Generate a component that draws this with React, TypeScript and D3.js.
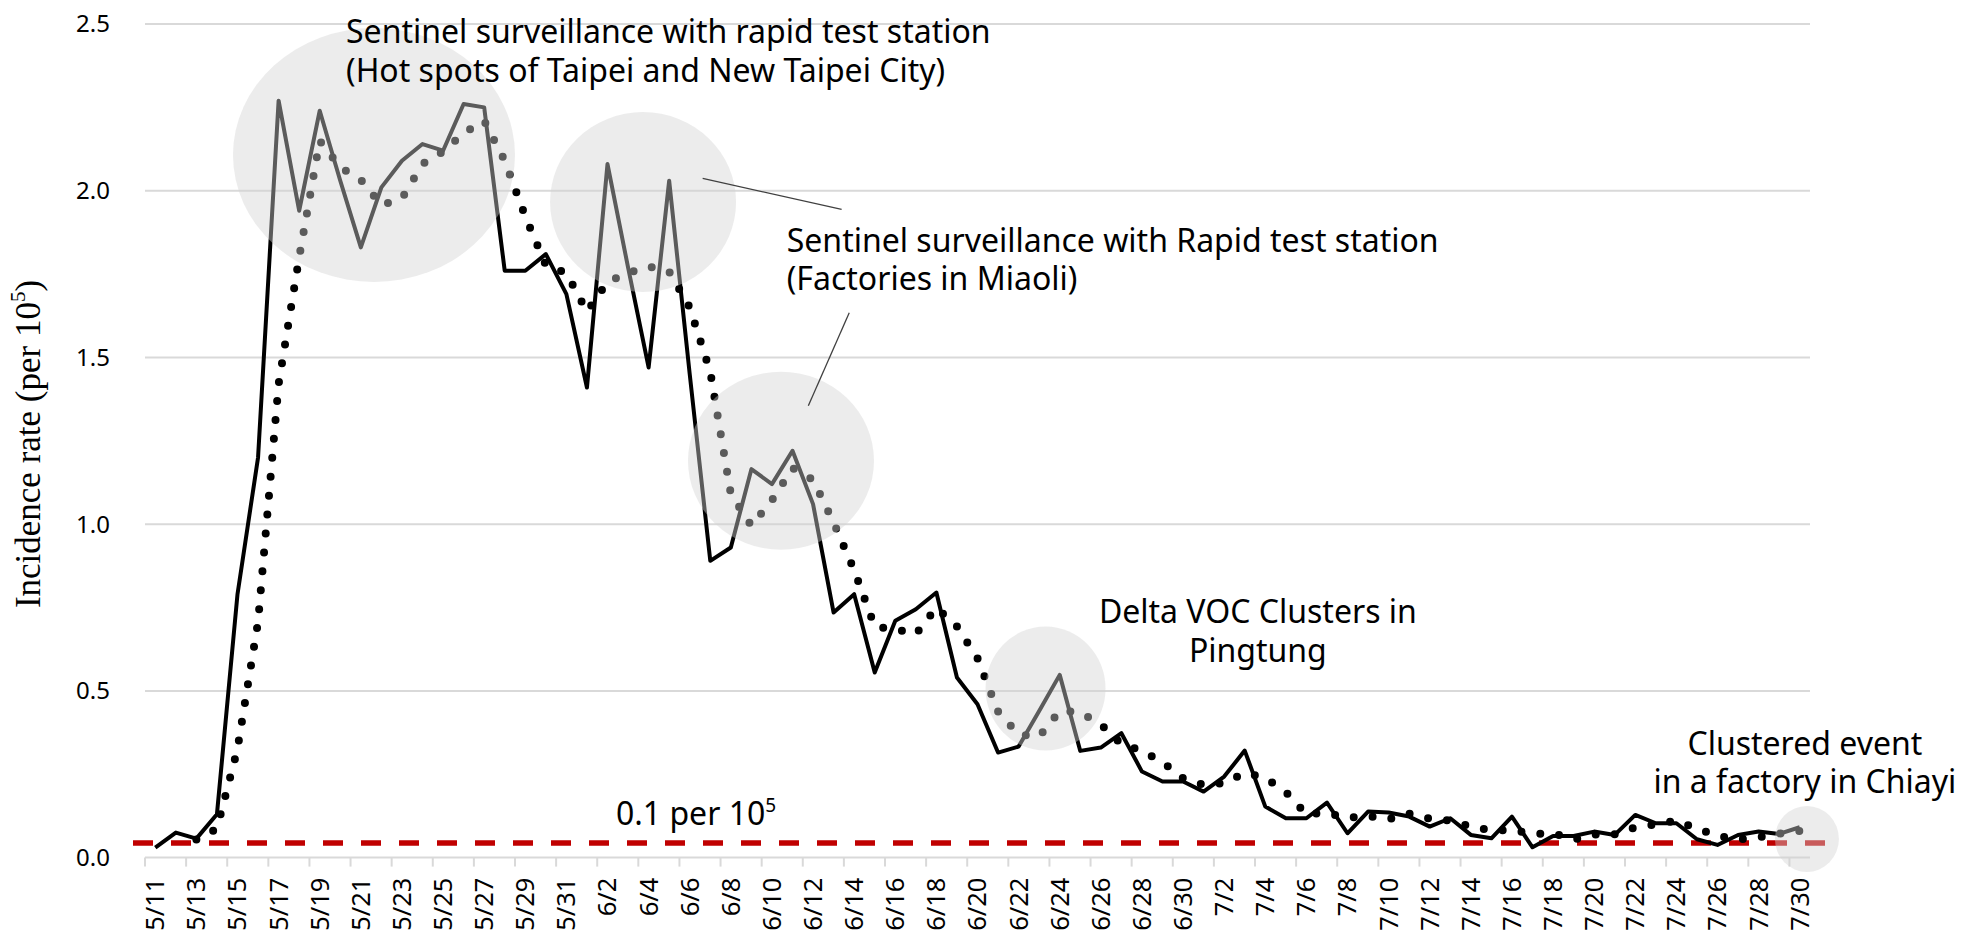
import React, { useEffect, useRef } from "react";
import * as d3 from "d3";

// daily categories 5/11 .. 7/30
const dates = [
  "5/11", "5/12", "5/13", "5/14", "5/15", "5/16", "5/17", "5/18", "5/19", "5/20",
  "5/21", "5/22", "5/23", "5/24", "5/25", "5/26", "5/27", "5/28", "5/29", "5/30", "5/31",
  "6/1", "6/2", "6/3", "6/4", "6/5", "6/6", "6/7", "6/8", "6/9", "6/10",
  "6/11", "6/12", "6/13", "6/14", "6/15", "6/16", "6/17", "6/18", "6/19", "6/20",
  "6/21", "6/22", "6/23", "6/24", "6/25", "6/26", "6/27", "6/28", "6/29", "6/30",
  "7/1", "7/2", "7/3", "7/4", "7/5", "7/6", "7/7", "7/8", "7/9", "7/10",
  "7/11", "7/12", "7/13", "7/14", "7/15", "7/16", "7/17", "7/18", "7/19", "7/20",
  "7/21", "7/22", "7/23", "7/24", "7/25", "7/26", "7/27", "7/28", "7/29", "7/30",
];

// daily incidence rate (per 10^5)
const incidence = [
  0.03, 0.075, 0.057, 0.13, 0.79, 1.2, 2.27, 1.94, 2.24, 2.03,
  1.83, 2.01, 2.09, 2.14, 2.12, 2.26, 2.25, 1.76, 1.76, 1.81, 1.69,
  1.41, 2.08, 1.77, 1.47, 2.03, 1.45, 0.89, 0.93, 1.165, 1.12,
  1.22, 1.06, 0.735, 0.79, 0.555, 0.71, 0.745, 0.795, 0.54, 0.46,
  0.315, 0.333, 0.44, 0.548, 0.32, 0.33, 0.373, 0.258, 0.228, 0.228,
  0.198, 0.243, 0.321, 0.153, 0.118, 0.118, 0.165, 0.073, 0.138, 0.135,
  0.123, 0.093, 0.118, 0.068, 0.058, 0.123, 0.031, 0.065, 0.065, 0.078,
  0.068, 0.128, 0.103, 0.103, 0.055, 0.038, 0.068, 0.078, 0.071, 0.091,
];

// dotted trend (moving average)
const trend = [
  null, null, 0.054, 0.087, 0.326, 0.707, 1.42, 1.8, 2.15, 2.07,
  2.033, 1.957, 1.977, 2.08, 2.117, 2.173, 2.21, 2.09, 1.923, 1.777, 1.753,
  1.637, 1.727, 1.753, 1.773, 1.757, 1.65, 1.457, 1.09, 0.995, 1.072,
  1.168, 1.133, 1.005, 0.862, 0.693, 0.685, 0.67, 0.75, 0.693, 0.598,
  0.438, 0.369, 0.363, 0.44, 0.436, 0.399, 0.341, 0.32, 0.286, 0.238,
  0.218, 0.223, 0.254, 0.239, 0.197, 0.13, 0.134, 0.119, 0.125, 0.115,
  0.132, 0.117, 0.111, 0.093, 0.081, 0.083, 0.071, 0.073, 0.054, 0.069,
  0.07, 0.091, 0.1, 0.111, 0.087, 0.065, 0.054, 0.061, 0.072, 0.08,
];

const yTicks = [0, 0.5, 1.0, 1.5, 2.0, 2.5];
const threshold = 0.044;

// shaded highlight circles (day index, value)
const highlights = [
  { day: 10.64, value: 2.107, rx: 141, ry: 127 },
  { day: 23.73, value: 1.966, rx: 93, ry: 90 },
  { day: 30.44, value: 1.19, rx: 93, ry: 89 },
  { day: 43.31, value: 0.507, rx: 60, ry: 62 },
  { day: 80.35, value: 0.056, rx: 32, ry: 33 },
];

const notes = [
  { day: 9.28, value: 2.442, anchor: "start", lines: ["Sentinel surveillance with rapid test station", "(Hot spots of Taipei and New Taipei City)"] },
  { day: 30.72, value: 1.817, anchor: "start", lines: ["Sentinel surveillance with Rapid test station", "(Factories in Miaoli)"] },
  { day: 53.64, value: 0.703, anchor: "middle", lines: ["Delta VOC Clusters in", "Pingtung"] },
  { day: 80.25, value: 0.308, anchor: "middle", lines: ["Clustered event", "in a factory in Chiayi"] },
];

const leaders = [
  { from: [26.63, 2.037], to: [33.39, 1.944] },
  { from: [33.76, 1.634], to: [31.77, 1.355] },
];

export default function App() {
  const ref = useRef<SVGSVGElement | null>(null);

  useEffect(() => {
    const width = 1966;
    const height = 933;
    const left = 145;
    const right = 1810;
    const top = 24;
    const bottom = 857.6;

    const svg = d3.select(ref.current);
    svg.selectAll("*").remove();

    const x = d3.scaleLinear().domain([-0.5, dates.length - 0.5]).range([left, right]);
    const y = d3.scaleLinear().domain([0, 2.5]).range([bottom, top]);

    svg.attr("width", width).attr("height", height).attr("viewBox", `0 0 ${width} ${height}`);
    svg.append("rect").attr("width", width).attr("height", height).attr("fill", "#fff");

    const sans = "'Noto Sans', 'Open Sans', sans-serif";

    // grid
    svg.append("g").selectAll("line")
      .data(yTicks)
      .join("line")
      .attr("x1", left).attr("x2", right)
      .attr("y1", d => y(d)).attr("y2", d => y(d))
      .attr("stroke", "#d9d9d9").attr("stroke-width", 2);

    svg.append("g").selectAll("text")
      .data(yTicks)
      .join("text")
      .attr("x", left - 35)
      .attr("y", d => y(d))
      .attr("dy", "0.35em")
      .attr("text-anchor", "end")
      .attr("font-family", sans)
      .attr("font-size", 24)
      .attr("fill", "#000")
      .text(d => d.toFixed(1));

    // category ticks every two days
    const tickIdx = d3.range(0, dates.length, 2).map(i => i - 0.5);
    svg.append("g").selectAll("line")
      .data(tickIdx)
      .join("line")
      .attr("x1", d => x(d)).attr("x2", d => x(d))
      .attr("y1", bottom).attr("y2", bottom + 9)
      .attr("stroke", "#d9d9d9").attr("stroke-width", 2);

    svg.append("g").selectAll("text")
      .data(dates.filter((_, i) => i % 2 === 0))
      .join("text")
      .attr("transform", (d, i) => `translate(${x(i * 2)},${bottom + 20}) rotate(-90)`)
      .attr("dy", "0.35em")
      .attr("text-anchor", "end")
      .attr("font-family", sans)
      .attr("font-size", 25.5)
      .attr("fill", "#000")
      .text(d => d);

    // axis title
    const title = svg.append("text")
      .attr("transform", `translate(40,444) rotate(-90)`)
      .attr("text-anchor", "middle")
      .attr("font-family", "'Liberation Serif', 'Times New Roman', serif")
      .attr("font-size", 35)
      .attr("fill", "#000");
    title.append("tspan").text("Incidence rate (per 10");
    title.append("tspan").attr("font-size", 21).attr("dy", -15).text("5");
    title.append("tspan").attr("dy", 15).text(")");

    // threshold
    svg.append("line")
      .attr("x1", left - 12).attr("x2", right + 29)
      .attr("y1", y(threshold)).attr("y2", y(threshold))
      .attr("stroke", "#c00000").attr("stroke-width", 5.5)
      .attr("stroke-dasharray", "20 18");

    const thr = svg.append("text")
      .attr("x", x(22.41)).attr("y", y(0.098))
      .attr("font-family", sans).attr("font-size", 32).attr("fill", "#000");
    thr.append("tspan").text("0.1 per 10");
    thr.append("tspan").attr("font-size", 19).attr("dy", -13).text("5");

    // series
    const line = d3.line<number>()
      .x((d, i) => x(i))
      .y(d => y(d));

    svg.append("path")
      .attr("d", line(incidence))
      .attr("fill", "none")
      .attr("stroke", "#000")
      .attr("stroke-width", 4)
      .attr("stroke-linejoin", "round");

    const trendLine = d3.line<number | null>()
      .defined(d => d !== null)
      .x((d, i) => x(i))
      .y(d => y(d as number));

    svg.append("path")
      .attr("d", trendLine(trend))
      .attr("fill", "none")
      .attr("stroke", "#000")
      .attr("stroke-width", 8)
      .attr("stroke-linecap", "round")
      .attr("stroke-dasharray", "0 19");

    // highlight circles over the lines
    svg.append("g").selectAll("ellipse")
      .data(highlights)
      .join("ellipse")
      .attr("cx", d => x(d.day))
      .attr("cy", d => y(d.value))
      .attr("rx", d => d.rx)
      .attr("ry", d => d.ry)
      .attr("fill", "rgb(210,210,210)")
      .attr("fill-opacity", 0.43);

    // leader lines
    svg.append("g").selectAll("line")
      .data(leaders)
      .join("line")
      .attr("x1", d => x(d.from[0])).attr("y1", d => y(d.from[1]))
      .attr("x2", d => x(d.to[0])).attr("y2", d => y(d.to[1]))
      .attr("stroke", "#404040").attr("stroke-width", 1.3);

    // annotations
    notes.forEach(n => {
      const t = svg.append("text")
        .attr("x", x(n.day)).attr("y", y(n.value))
        .attr("text-anchor", n.anchor)
        .attr("font-family", sans)
        .attr("font-size", 32)
        .attr("fill", "#000");
      n.lines.forEach((l, i) => {
        t.append("tspan").attr("x", x(n.day)).attr("dy", i === 0 ? 0 : 38.4).text(l);
      });
    });
  }, []);

  return (
    <svg ref={ref} style={{ position: "absolute", left: 0, top: 0, display: "block" }} />
  );
}
